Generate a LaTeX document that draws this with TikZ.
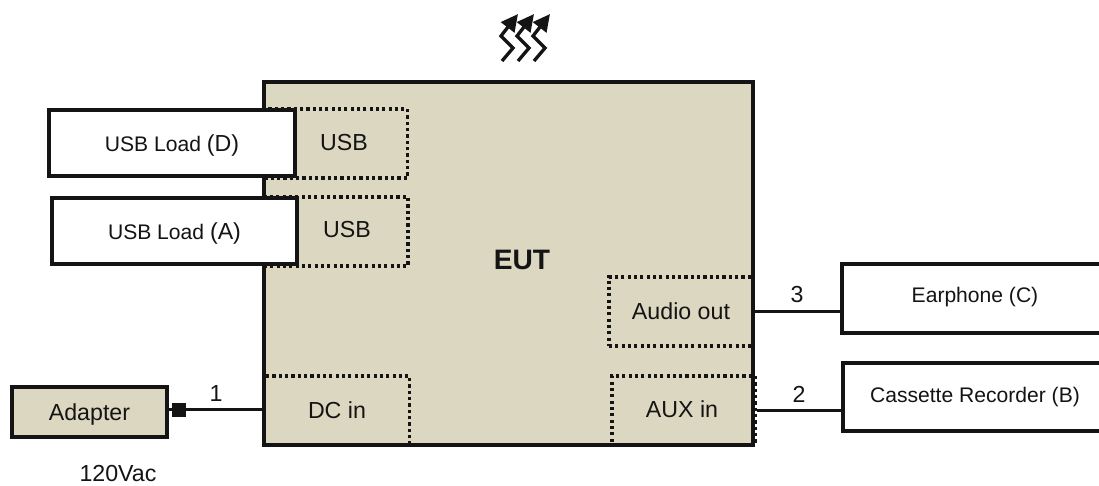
\documentclass[tikz,border=0pt]{standalone}
\usepackage{fontspec}
\setmainfont{Liberation Sans}
\usepackage{tikz}
\usetikzlibrary{arrows.meta, positioning, calc}
\definecolor{EutTan}{RGB}{220,215,192}
\definecolor{LineBlack}{RGB}{20,20,20}

\begin{document}
\begin{tikzpicture}[x=0.2mm, y=-0.2mm, font=\fontsize{13.2}{15}\selectfont, text=LineBlack,
	box/.style={rectangle, draw=LineBlack, line width=2.2pt, fill=white, inner sep=0pt},
	tan/.style={box, fill=EutTan},
	port/.style={rectangle, draw=LineBlack, line width=1.9pt, dash pattern=on 1.8pt off 1.8pt, inner sep=0pt},
	wire/.style={draw=LineBlack, line width=1.9pt},
	small/.style={font=\fontsize{12}{14}\selectfont},
	heat/.style={draw=LineBlack, line width=1.9pt}]

	\useasboundingbox (0,0) rectangle (1099,485);
	\clip (0,0) rectangle (1099,485);

	% ---------- EUT ----------
	\node[tan, minimum width=97.8mm, minimum height=72.6mm] (eut) at (508.5,263.5) {};
	\node[font=\fontsize{16}{18}\selectfont\bfseries] (eutname) at (522,260) {EUT};

	% ---------- puertos ----------
	\node[port, minimum width=28.6mm, minimum height=13.8mm] (usbd) at (336,143.5) {};
	\node[port, minimum width=28.8mm, minimum height=13.8mm] (usba) at (336,231.5) {};
	\node[port, minimum width=29.0mm, minimum height=13.8mm] (dcin) at (337,410.5) {};
	\node[port, minimum width=28.8mm, minimum height=13.8mm] (audio) at (681,311.5) {Audio out};
	\node[port, minimum width=28.6mm, minimum height=13.8mm] (aux) at (683.5,410.5) {};
	\node (usbdname) at (344,143) {USB};
	\node (usbaname) at (347,230) {USB};
	\node (dcname) at (337,410) {DC in};
	\node (auxname) at (682,409) {AUX in};

	% ---------- cargas ----------
	\node[box, minimum width=49.2mm, minimum height=13.2mm] (loadd) at (172,143) {};
	\node[box, minimum width=49.0mm, minimum height=13.2mm] (loada) at (174.5,231) {};
	\node (loaddname) at (172,145.5) {{\fontsize{12}{14}\selectfont USB Load }(D)};
	\node (loadaname) at (174.5,233) {{\fontsize{12}{14}\selectfont USB Load }(A)};
	\node[box, minimum width=56mm, minimum height=13.8mm] (earphone) at (982,298.5) {};
	\node[box, minimum width=56mm, minimum height=13.6mm] (cassette) at (983,397) {};
	\node[small] (earname) at (975,297) {Earphone (C)};
	\node[small] (casname) at (975,397) {Cassette Recorder (B)};

	% ---------- adaptador ----------
	\node[tan, minimum width=31mm, minimum height=10mm] (adapter) at (89.5,412) {};
	\node (adaptername) at (89.5,414) {Adapter};
	\node[rectangle, fill=LineBlack, minimum size=2.8mm, inner sep=0pt] (plug) at (179,409.5) {};
	\node[inner sep=0pt] (mains) at (118,474) {120Vac};

	% ---------- conexiones ----------
	\draw[wire, line width=2.2pt] (plug -| adapter.east) -- (plug);
	\draw[wire, line width=2.2pt] (plug) -- (plug -| dcin.west);
	\draw[wire] (audio.east) -- (audio.east -| earphone.west);
	\draw[wire] (aux.east) -- (aux.east -| cassette.west);
	\node (one) at (216,394) {1};
	\node (three) at (797,295) {3};
	\node (two) at (799,394) {2};

	% ---------- calor ----------
	\foreach \dx in {0,16,32}{
		\begin{scope}[xshift=\dx*0.2mm]
			\draw[heat, -{Stealth[length=3.4mm, width=3.3mm, inset=0mm]}]
				(502,61) -- (513,48) -- (501,36) -- (518,14);
		\end{scope}
	}
\end{tikzpicture}
\end{document}
